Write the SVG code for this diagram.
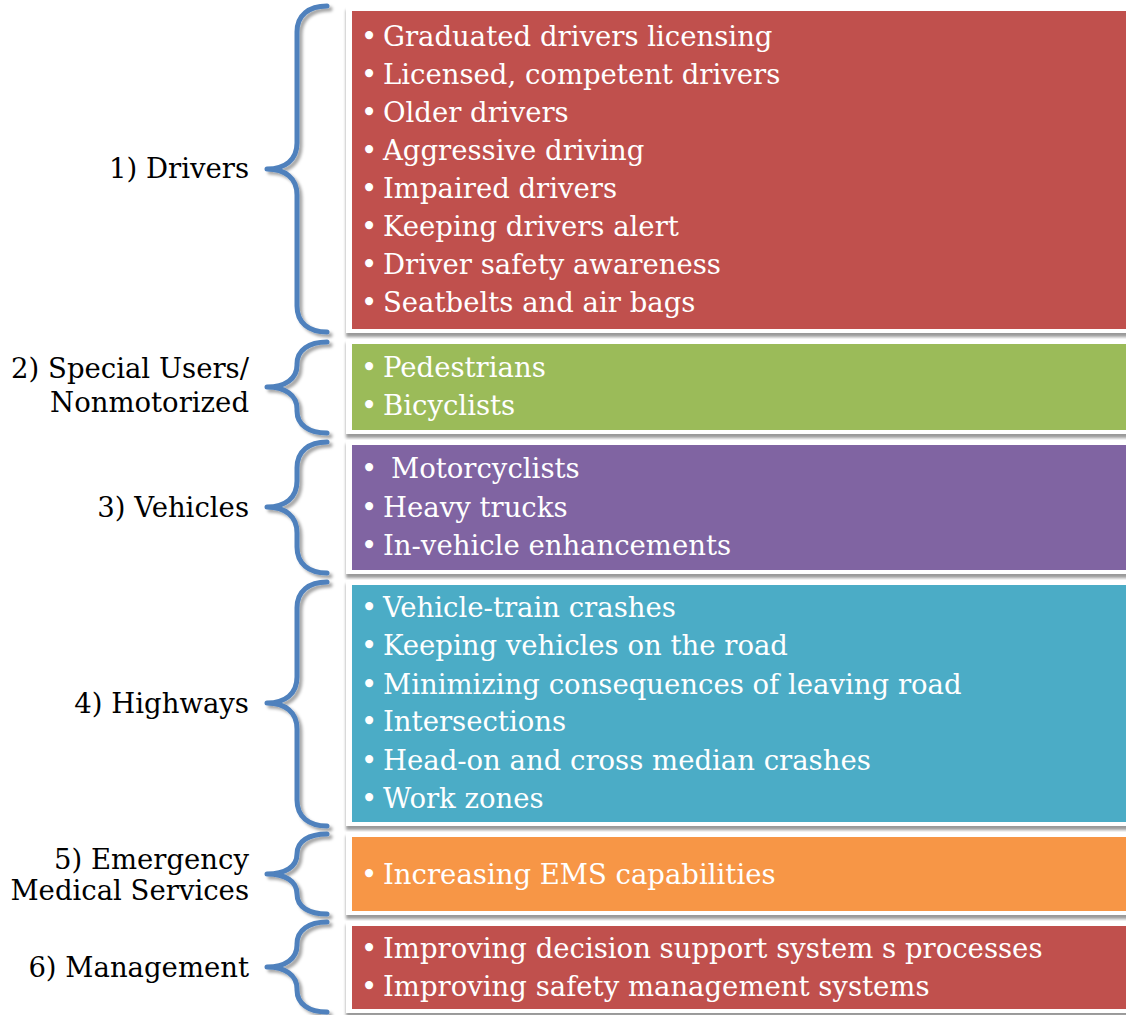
<svg xmlns="http://www.w3.org/2000/svg" width="1126" height="1015" viewBox="0 0 1126 1015">
<style>
.lbl{font-family:"DejaVu Serif","Liberation Serif",serif;font-size:27.5px;fill:#000;text-anchor:end}
.itm{font-family:"DejaVu Serif","Liberation Serif",serif;font-size:27.5px;fill:#fff}
.brace{fill:none;stroke:#4f81bd;stroke-width:5;stroke-linecap:round;stroke-linejoin:round;filter:url(#bsh)}
.frame{fill:#fff;filter:url(#fsh)}
</style>
<defs>
<filter id="bsh" x="-50%" y="-10%" width="200%" height="120%">
<feDropShadow dx="3" dy="3" stdDeviation="1.8" flood-color="#000" flood-opacity="0.35"/>
</filter>
<filter id="fsh" x="-5%" y="-10%" width="110%" height="130%">
<feDropShadow dx="0" dy="4" stdDeviation="1.5" flood-color="#000" flood-opacity="0.4"/>
</filter>
</defs>
<rect width="1126" height="1015" fill="#fff"/>
<g id="connectors">
<path class="brace" d="M327,6 C309,6 297,15 297,32 L297,143 C297,160 285,169 267,169 C285,169 297,178 297,195 L297,306 C297,323 309,332 327,332"/>
<path class="brace" d="M327,342 C309,342 297,350 297,364 L297,365 C297,379 285,387 267,387 C285,387 297,395 297,409 L297,411 C297,425 309,433 327,433"/>
<path class="brace" d="M327,442 C309,442 297,451 297,468 L297,481 C297,498 285,507 267,507 C285,507 297,516 297,533 L297,547 C297,564 309,573 327,573"/>
<path class="brace" d="M327,582 C309,582 297,591 297,608 L297,677 C297,694 285,703 267,703 C285,703 297,712 297,729 L297,800 C297,817 309,826 327,826"/>
<path class="brace" d="M327,834 C309,834 297,841 297,854 C297,867 285,874 267,874 C285,874 297,881 297,894 C297,907 309,914 327,914"/>
<path class="brace" d="M327,922 C309,922 297,930 297,944 L297,945 C297,959 285,967 267,967 C285,967 297,975 297,989 L297,990 C297,1004 309,1012 327,1012"/>
</g>
<g id="drivers">
<text class="lbl" x="249" y="178">1) Drivers</text>
<rect class="frame" x="346" y="6" width="790" height="327"/>
<rect x="352" y="11" width="774" height="318" fill="#c0504d"/>
<g class="itm">
<text x="361" y="46">•</text><text x="383" y="46">Graduated drivers licensing</text>
<text x="361" y="84">•</text><text x="383" y="84">Licensed, competent drivers</text>
<text x="361" y="122">•</text><text x="383" y="122">Older drivers</text>
<text x="361" y="160">•</text><text x="383" y="160">Aggressive driving</text>
<text x="361" y="198">•</text><text x="383" y="198">Impaired drivers</text>
<text x="361" y="236">•</text><text x="383" y="236">Keeping drivers alert</text>
<text x="361" y="274">•</text><text x="383" y="274">Driver safety awareness</text>
<text x="361" y="312">•</text><text x="383" y="312">Seatbelts and air bags</text>
</g>
</g>
<g id="special-users">
<text class="lbl" x="249" y="378">2) Special Users/</text>
<text class="lbl" x="249" y="412">Nonmotorized</text>
<rect class="frame" x="346" y="339" width="790" height="95"/>
<rect x="352" y="344" width="774" height="86" fill="#9bbb59"/>
<g class="itm">
<text x="361" y="377">•</text><text x="383" y="377">Pedestrians</text>
<text x="361" y="415">•</text><text x="383" y="415">Bicyclists</text>
</g>
</g>
<g id="vehicles">
<text class="lbl" x="249" y="517">3) Vehicles</text>
<rect class="frame" x="346" y="440" width="790" height="134"/>
<rect x="352" y="445" width="774" height="125" fill="#8064a2"/>
<g class="itm">
<text x="361" y="478">•</text><text x="391" y="478">Motorcyclists</text>
<text x="361" y="517">•</text><text x="383" y="517">Heavy trucks</text>
<text x="361" y="555">•</text><text x="383" y="555">In-vehicle enhancements</text>
</g>
</g>
<g id="highways">
<text class="lbl" x="249" y="713">4) Highways</text>
<rect class="frame" x="346" y="580" width="790" height="246"/>
<rect x="352" y="585" width="774" height="237" fill="#4bacc6"/>
<g class="itm">
<text x="361" y="617">•</text><text x="383" y="617">Vehicle-train crashes</text>
<text x="361" y="655">•</text><text x="383" y="655">Keeping vehicles on the road</text>
<text x="361" y="694">•</text><text x="383" y="694">Minimizing consequences of leaving road</text>
<text x="361" y="731">•</text><text x="383" y="731">Intersections</text>
<text x="361" y="770">•</text><text x="383" y="770">Head-on and cross median crashes</text>
<text x="361" y="808">•</text><text x="383" y="808">Work zones</text>
</g>
</g>
<g id="ems">
<text class="lbl" x="249" y="869">5) Emergency</text>
<text class="lbl" x="249" y="900">Medical Services</text>
<rect class="frame" x="346" y="832" width="790" height="83"/>
<rect x="352" y="837" width="774" height="74" fill="#f79646"/>
<g class="itm">
<text x="361" y="884">•</text><text x="383" y="884">Increasing EMS capabilities</text>
</g>
</g>
<g id="management">
<text class="lbl" x="249" y="977">6) Management</text>
<rect class="frame" x="346" y="921" width="790" height="92"/>
<rect x="352" y="926" width="774" height="83" fill="#c0504d"/>
<g class="itm">
<text x="361" y="958">•</text><text x="383" y="958">Improving decision support system s processes</text>
<text x="361" y="996">•</text><text x="383" y="996">Improving safety management systems</text>
</g>
</g>
</svg>
